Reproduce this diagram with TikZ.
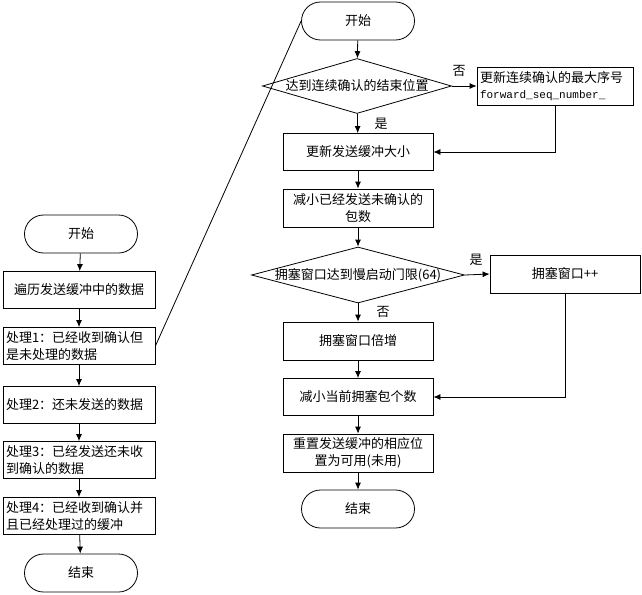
\documentclass[tikz,border=0pt]{standalone}
\usepackage{fontspec}
\setmainfont{Noto Sans CJK SC}
\setmonofont{Liberation Mono}
\usetikzlibrary{shapes.geometric,arrows.meta}

\begin{document}
\begin{tikzpicture}[
  x=1pt, y=-1pt,
  line width=0.8pt,
  every node/.style={font=\fontsize{13}{16.5}\selectfont, inner sep=3pt},
  term/.style={draw, rectangle, rounded corners=19pt, minimum width=113pt, minimum height=38pt},
  proc/.style={draw, rectangle, minimum width=150pt, minimum height=37pt, align=center},
  procl/.style={draw, rectangle, minimum height=37pt, text width=146pt, align=left},
  decision/.style={draw, diamond, inner sep=0pt},
  lab/.style={inner sep=1pt},
  flow/.style={-{Latex[length=7pt,width=6pt]}}
]
\useasboundingbox (0,0) rectangle (642,594);

% left column
\node[term] (start1) at (81,234) {开始};
\node[procl, align=center] (scan) at (79,290) {遍历发送缓冲中的数据};
\node[procl] (case1) at (79,346) {处理1：已经收到确认但\\是未处理的数据};
\node[procl] (case2) at (79,405) {处理2：还未发送的数据};
\node[procl] (case3) at (79,460) {处理3：已经发送还未收\\到确认的数据};
\node[procl] (case4) at (79,516) {处理4：已经收到确认并\\且已经处理过的缓冲};
\node[term] (end1) at (81,573) {结束};

% right column
\node[term] (start2) at (358,21) {开始};
\node[decision, minimum width=189pt, minimum height=55pt] (ackend) at (357,86) {\makebox[0pt]{达到连续确认的结束位置}};
\node[draw, rectangle, minimum height=38pt, text width=150pt, align=left] (maxseq) at (555,86)
  {更新连续确认的最大序号\\{\ttfamily\fontsize{11}{14}\selectfont forward\_seq\_number\_}};
\node[proc] (bufsize) at (358,152) {更新发送缓冲大小};
\node[proc, minimum height=38pt] (unacked) at (358,208) {减小已经发送未确认的\\包数};
\node[decision, minimum width=213pt, minimum height=56pt] (slowstart) at (358,275) {\makebox[0pt]{拥塞窗口达到慢启动门限(64)}};
\node[proc, minimum height=38pt] (cwndinc) at (565,274) {拥塞窗口++};
\node[proc, minimum height=38pt] (cwnddbl) at (358,341) {拥塞窗口倍增};
\node[proc] (congest) at (358,397) {减小当前拥塞包个数};
\node[proc, minimum height=38pt] (reset) at (358,453) {重置发送缓冲的相应位\\置为可用(未用)};
\node[term] (end2) at (358,509) {结束};

% branch labels
\node[lab] (no1) at (459,71) {否};
\node[lab] (yes1) at (381,124) {是};
\node[lab] (yes2) at (476,260) {是};
\node[lab] (no2) at (383,312) {否};

\foreach \a/\b in {start1/scan, scan/case1, case1/case2, case2/case3, case3/case4, case4/end1,
                   start2/ackend, ackend/bufsize, bufsize/unacked, unacked/slowstart,
                   slowstart/cwnddbl, cwnddbl/congest, congest/reset, reset/end2}
  \draw[flow] (\a) -- (\b);

\draw[flow] (ackend.east) -- (maxseq.west);
\draw[flow] (maxseq.south) |- (bufsize.east);
\draw[flow] (slowstart.east) -- (cwndinc.west);
\draw[flow] (cwndinc.south) |- (congest.east);
\draw (case1.east) -- (start2.west);
\end{tikzpicture}
\end{document}
